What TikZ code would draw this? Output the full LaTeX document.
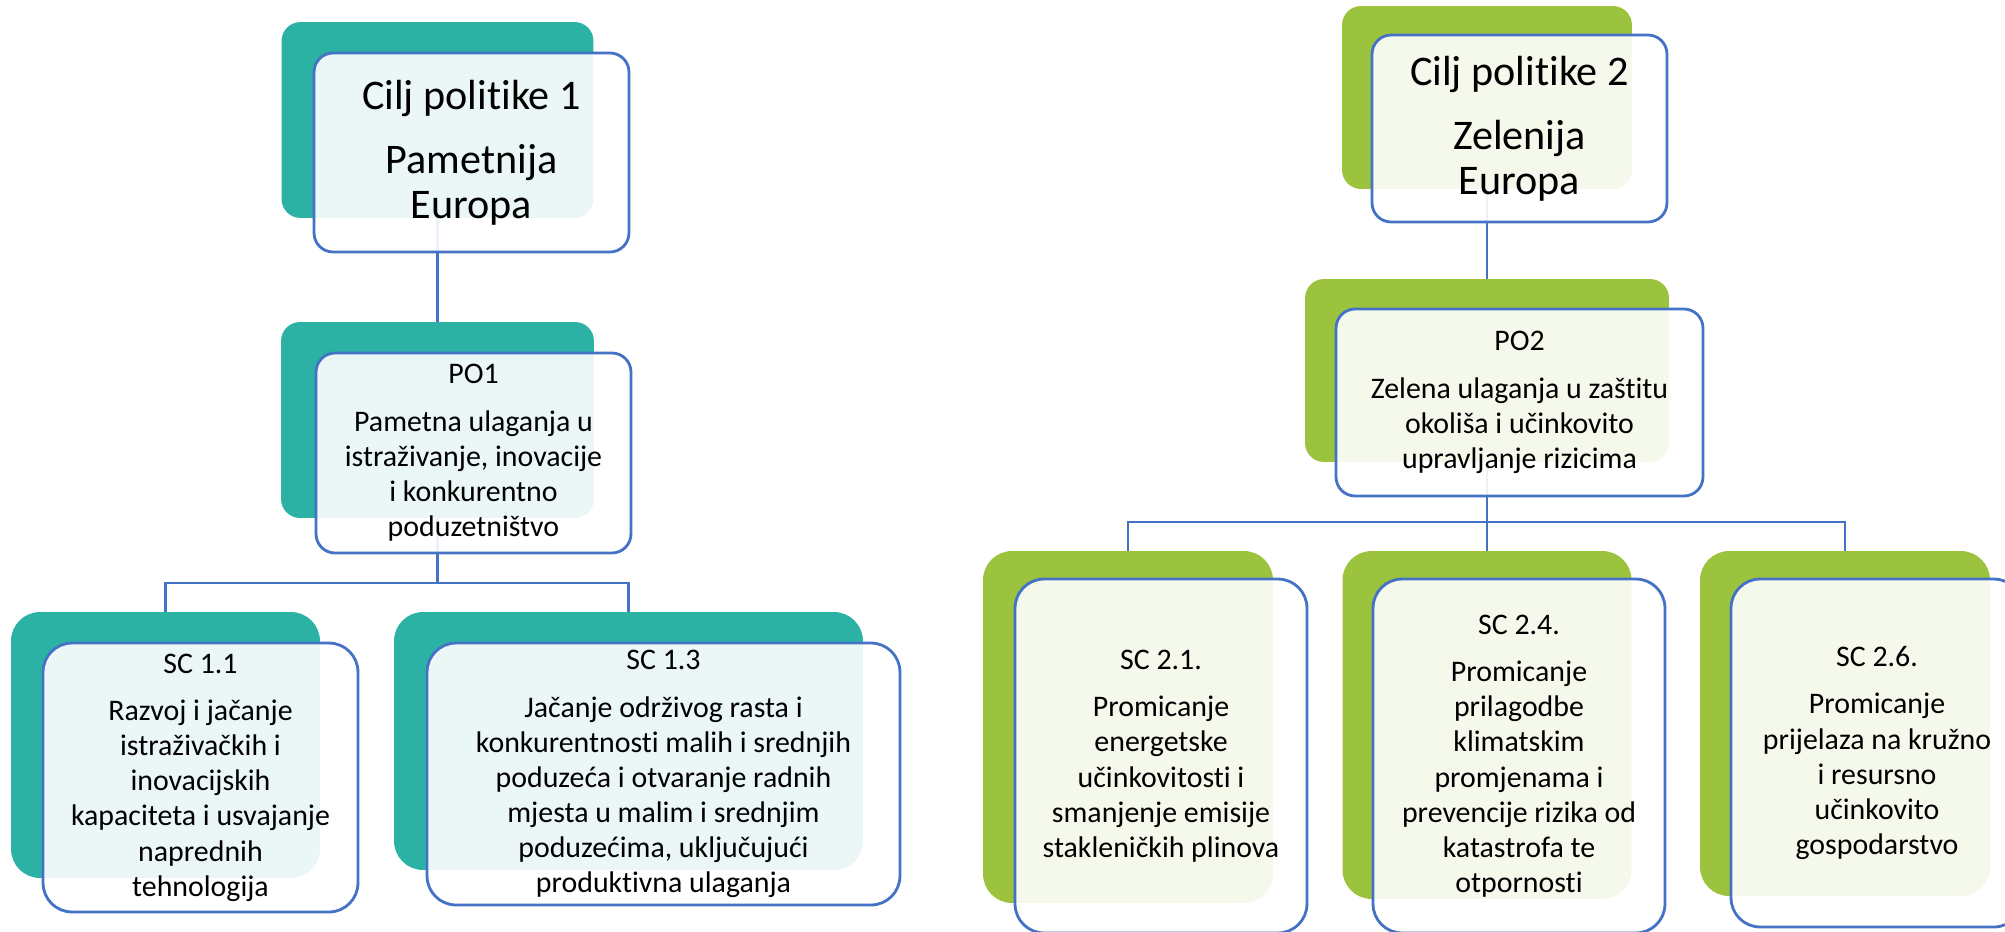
\documentclass[tikz,border=0pt]{standalone}
\usepackage{fontspec}
\setmainfont{Carlito}[Ligatures={NoCommon,NoRare},Contextuals=NoAlternate]
\usetikzlibrary{backgrounds}
\definecolor{tealback}{RGB}{43,178,164}
\definecolor{greenback}{RGB}{155,195,62}
\definecolor{linkblue}{RGB}{68,114,196}

\begin{document}
\begin{tikzpicture}[x=0.02cm,y=-0.02cm]

	\tikzset{back/.style = {shape=rectangle,rounded corners=0.38cm,inner sep=0,outer sep=0}}
	\tikzset{card/.style = {shape=rectangle,rounded corners=0.38cm,draw=linkblue,line width=1.6pt,fill=white,fill opacity=0.9,text opacity=1,inner sep=0,outer sep=0,align=center,font=\fontsize{17}{20}\selectfont}}
	\tikzset{title/.style = {card,font=\fontsize{24}{25.6}\selectfont}}
	\tikzset{leaf/.style = {rounded corners=0.58cm}}
	\tikzset{edge/.style = {draw=linkblue,line width=1.4pt}}

	\clip (0,0) rectangle (2005,931);

	% left tree
	\node[back,fill=tealback,minimum width=6.24cm,minimum height=3.92cm] (c1b) at (437.5,120) {};
	\node[title,minimum width=6.3cm,minimum height=3.98cm] (c1) at (471.5,152.5) {Cilj politike 1\\[11pt]Pametnija\\Europa};

	\node[back,fill=tealback,minimum width=6.26cm,minimum height=3.92cm] (po1b) at (437.5,420) {};
	\node[card,minimum width=6.3cm,minimum height=4cm] (po1) at (473.5,453) {PO1\\[7pt]Pametna ulaganja u\\istraživanje, inovacije\\i konkurentno\\poduzetništvo};

	\node[back,leaf,fill=tealback,minimum width=6.18cm,minimum height=5.32cm] (sc11b) at (165.5,745) {};
	\node[card,leaf,minimum width=6.3cm,minimum height=5.38cm] (sc11) at (200.5,777.5) {SC 1.1\\[7pt]Razvoj i jačanje\\istraživačkih i\\inovacijskih\\kapaciteta i usvajanje\\naprednih\\tehnologija};

	\node[back,leaf,fill=tealback,minimum width=9.38cm,minimum height=5.16cm] (sc13b) at (628.5,741) {};
	\node[card,leaf,minimum width=9.46cm,minimum height=5.24cm] (sc13) at (663.5,774) {SC 1.3\\[7pt]Jačanje održivog rasta i\\konkurentnosti malih i srednjih\\poduzeća i otvaranje radnih\\mjesta u malim i srednjim\\poduzećima, uključujući\\produktivna ulaganja};

	% right tree
	\node[back,fill=greenback,minimum width=5.8cm,minimum height=3.66cm] (c2b) at (1487,97.5) {};
	\node[title,minimum width=5.9cm,minimum height=3.74cm] (c2) at (1519.5,128.5) {Cilj politike 2\\[11pt]Zelenija\\Europa};

	\node[back,fill=greenback,minimum width=7.28cm,minimum height=3.66cm] (po2b) at (1487,370.5) {};
	\node[card,minimum width=7.34cm,minimum height=3.74cm] (po2) at (1519.5,402.5) {PO2\\[7pt]Zelena ulaganja u zaštitu\\okoliša i učinkovito\\upravljanje rizicima};

	\node[back,leaf,fill=greenback,minimum width=5.8cm,minimum height=7.04cm] (sc21b) at (1128,727) {};
	\node[card,leaf,minimum width=5.84cm,minimum height=7.08cm] (sc21) at (1161,756) {SC 2.1.\\[7pt]Promicanje\\energetske\\učinkovitosti i\\smanjenje emisije\\stakleničkih plinova};

	\node[back,leaf,fill=greenback,minimum width=5.78cm,minimum height=6.96cm] (sc24b) at (1487,725) {};
	\node[card,leaf,minimum width=5.84cm,minimum height=7.08cm] (sc24) at (1519,756) {SC 2.4.\\[7pt]Promicanje\\prilagodbe\\klimatskim\\promjenama i\\prevencije rizika od\\katastrofa te\\otpornosti};

	\node[back,leaf,fill=greenback,minimum width=5.8cm,minimum height=6.9cm] (sc26b) at (1845,723.5) {};
	\node[card,leaf,minimum width=5.84cm,minimum height=6.96cm] (sc26) at (1877,753) {SC 2.6.\\[7pt]Promicanje\\prijelaza na kružno\\i resursno\\učinkovito\\gospodarstvo};

	%edges
	\coordinate (bus1) at (437.5,583);
	\coordinate (bus2) at (1487,522);
	\begin{pgfonlayer}{background}
		\draw[edge] (c1b) -- (po1b);
		\draw[edge] (po1b) -- (bus1);
		\draw[edge] (sc11b) |- (bus1) -| (sc13b);

		\draw[edge] (c2b) -- (po2b);
		\draw[edge] (po2b) -- (sc24b);
		\draw[edge] (sc21b) |- (bus2) -| (sc26b);
	\end{pgfonlayer}
\end{tikzpicture}
\end{document}
